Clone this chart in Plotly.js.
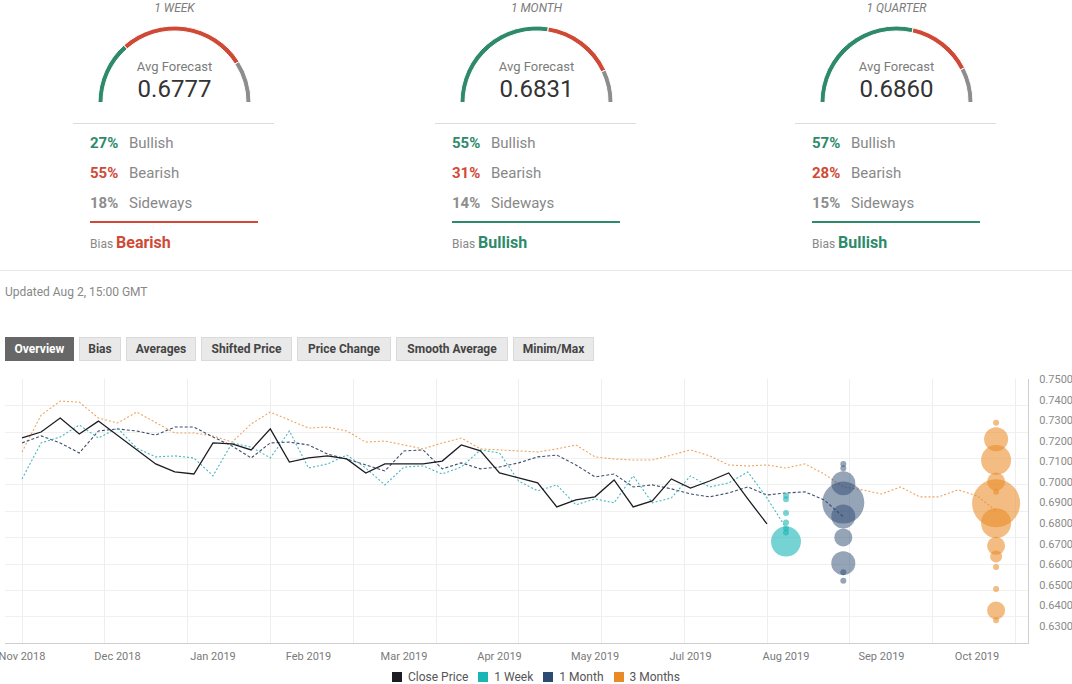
<!DOCTYPE html>
<html><head><meta charset="utf-8">
<script src="https://cdn.plot.ly/plotly-3.0.1.min.js"></script>
<style>
html,body{margin:0;padding:0;background:#fff}
body{width:1072px;height:684px;overflow:hidden;position:relative;font-family:Roboto,"Open Sans",Arial,sans-serif}
.a{position:absolute}
.blk{position:absolute;top:0;width:202px;height:262px}
.ttl{top:0;left:0;width:203px;text-align:center;font-style:italic;font-size:12px;line-height:16px;color:#7b7b7b}
.gauge{left:25px;top:26px;width:153px;height:153px}
.avgl{top:59px;left:0;width:203px;text-align:center;font-size:13px;line-height:16px;color:#7b7b7b}
.avgv{top:74px;left:0;width:203px;text-align:center;font-size:24px;line-height:30px;color:#333}
.sep{top:123px;left:0;width:201px;height:1px;background:#dcdcdc}
.row{left:17px;font-size:15px;line-height:18px;color:#888;white-space:nowrap}
.row b{display:inline-block;width:39px;font-weight:700}
.bline{top:221px;left:17px;width:168px;height:2px}
.bias{top:233px;left:17px;font-size:12px;line-height:20px;color:#888;white-space:nowrap}
.bias b{font-size:16px}
.btn{top:337px;height:24px;line-height:22px;font-size:12px;font-weight:700;color:#444;background:#e9e9e9;border:1px solid #dadada;box-sizing:border-box;text-align:center;white-space:nowrap}
.leg{top:670px;left:392px;display:flex;align-items:center;font-size:12px;color:#555;white-space:nowrap}
.leg span.sq{display:inline-block;width:10px;height:10px;margin-right:6px}
.leg span.tx{margin-right:10px}
</style></head>
<body>
<div id="chart" class="a" style="left:0;top:0;width:1072px;height:684px"></div>
<div id="blocks"></div>
<div class="a" style="top:270px;left:0;width:1072px;height:1px;background:#e8e8e8"></div>
<div class="a" style="top:284px;left:5px;font-size:12px;line-height:16px;color:#888">Updated Aug 2, 15:00 GMT</div>
<div id="btns"></div>
<div id="legend" class="a leg"></div>
<script>
// ---------- DATA ----------
const horizons = ['1 WEEK', '1 MONTH', '1 QUARTER'];
const avgForecast = [0.6777, 0.6831, 0.6860];
const bullishPct = [27, 55, 57];
const bearishPct = [55, 31, 28];
const sidewaysPct = [18, 14, 15];
const biasLabel = ['Bearish', 'Bullish', 'Bullish'];

const buttons = ['Overview', 'Bias', 'Averages', 'Shifted Price', 'Price Change', 'Smooth Average', 'Minim/Max'];

const weekLabels = ['Nov 2018', 'Dec 2018', 'Jan 2019', 'Feb 2019', 'Mar 2019', 'Apr 2019', 'May 2019', 'Jul 2019', 'Aug 2019', 'Sep 2019', 'Oct 2019'];
const yTickVals = [0.63, 0.64, 0.65, 0.66, 0.67, 0.68, 0.69, 0.70, 0.71, 0.72, 0.73, 0.74, 0.75];

const closePrice = [0.7214, 0.7243, 0.7311, 0.7233, 0.7296, 0.7228, 0.7156, 0.7088, 0.7049, 0.7039,
  0.7190, 0.7185, 0.7156, 0.7258, 0.7097, 0.7117, 0.7127, 0.7112, 0.7044, 0.7088,
  0.7088, 0.7088, 0.7102, 0.7180, 0.7151, 0.7044, 0.7020, 0.6996, 0.6879, 0.6913,
  0.6928, 0.7010, 0.6879, 0.6908, 0.7015, 0.6971, 0.7005, 0.7044, 0.6918, 0.6797];

const weekAvg = [0.7015, 0.7190, 0.7219, 0.7277, 0.7214, 0.7262, 0.7165, 0.7122, 0.7127, 0.7117,
  0.7030, 0.7190, 0.7170, 0.7117, 0.7248, 0.7068, 0.7088, 0.7131, 0.7068, 0.6986,
  0.7073, 0.7078, 0.7039, 0.7073, 0.7156, 0.7141, 0.7005, 0.6957, 0.6986, 0.6889,
  0.6918, 0.6899, 0.7030, 0.6899, 0.6923, 0.7030, 0.6976, 0.6996, 0.7049, 0.6923, 0.6777];

const monthAvg = [0.7190, 0.7224, 0.7190, 0.7141, 0.7248, 0.7258, 0.7248, 0.7228, 0.7267, 0.7267,
  0.7219, 0.7175, 0.7117, 0.7190, 0.7194, 0.7180, 0.7136, 0.7112, 0.7083, 0.7054,
  0.7151, 0.7156, 0.7064, 0.7093, 0.7064, 0.7073, 0.7093, 0.7122, 0.7131, 0.7083,
  0.7025, 0.7039, 0.6976, 0.6986, 0.6967, 0.6942, 0.6928, 0.6947, 0.6976, 0.6937,
  0.6947, 0.6952, 0.6913, 0.6831];

const quarterAvg = [0.7146, 0.7325, 0.7393, 0.7388, 0.7311, 0.7287, 0.7340, 0.7287, 0.7238, 0.7238,
  0.7224, 0.7194, 0.7282, 0.7340, 0.7301, 0.7262, 0.7267, 0.7248, 0.7194, 0.7199,
  0.7180, 0.7161, 0.7190, 0.7214, 0.7161, 0.7156, 0.7151, 0.7146, 0.7161, 0.7180,
  0.7122, 0.7112, 0.7107, 0.7107, 0.7131, 0.7156, 0.7127, 0.7083, 0.7078, 0.7083,
  0.7068, 0.7088, 0.7039, 0.6976, 0.6962, 0.6942, 0.6976, 0.6928, 0.6928, 0.6962,
  0.6933, 0.6860];

const horizonWeeks = [1, 4, 12];
const weekForecasts = [0.6933, 0.6916, 0.6849, 0.6803, 0.6776, 0.6755, 0.6711];
const weekCounts    = [1, 1, 1, 1, 1, 1, 5];
const monthForecasts = [0.7088, 0.7067, 0.6994, 0.6900, 0.6832, 0.6731, 0.6606, 0.6562, 0.6520];
const monthCounts    = [1, 1, 4, 7, 4, 3, 4, 1, 1];
const quarterForecasts = [0.7288, 0.7208, 0.7107, 0.7002, 0.6953, 0.6897, 0.6800, 0.6690, 0.6638, 0.6587, 0.6480, 0.6376, 0.6328];
const quarterCounts    = [1, 4, 5, 3, 1, 8, 5, 3, 2, 1, 1, 3, 1];

// ---------- STYLE ----------
const C_GREEN = '#2e8a6b', C_RED = '#cf4a36', C_GRAY = '#8d8d8d';
const C_CLOSE = '#1c1c22', C_WEEK = '#1ab5b5', C_MONTH = '#2d4a72', C_QUARTER = '#e88b27';
const FONT = 'Roboto, "Open Sans", Arial, sans-serif';

// ---------- TOP BLOCKS ----------
const blockOffsets = [73, 435, 795];
const blocksEl = document.getElementById('blocks');
horizons.forEach((h, k) => {
  const b = document.createElement('div');
  b.className = 'blk';
  b.style.left = blockOffsets[k] + 'px';
  const biasColor = biasLabel[k] === 'Bearish' ? C_RED : C_GREEN;
  b.innerHTML =
    '<div class="a ttl">' + h + '</div>' +
    '<div class="a gauge" id="gauge' + k + '"></div>' +
    '<div class="a avgl">Avg Forecast</div>' +
    '<div class="a avgv">' + avgForecast[k].toFixed(4) + '</div>' +
    '<div class="a sep"></div>' +
    '<div class="a row" style="top:134px"><b style="color:' + C_GREEN + '">' + bullishPct[k] + '%</b>Bullish</div>' +
    '<div class="a row" style="top:164px"><b style="color:' + C_RED + '">' + bearishPct[k] + '%</b>Bearish</div>' +
    '<div class="a row" style="top:194px"><b style="color:' + C_GRAY + '">' + sidewaysPct[k] + '%</b>Sideways</div>' +
    '<div class="a bline" style="background:' + biasColor + '"></div>' +
    '<div class="a bias">Bias <b style="color:' + biasColor + '">' + biasLabel[k] + '</b></div>';
  blocksEl.appendChild(b);
});

horizons.forEach((h, k) => {
  Plotly.newPlot('gauge' + k, [{
    type: 'pie',
    values: [bullishPct[k], bearishPct[k], sidewaysPct[k], bullishPct[k] + bearishPct[k] + sidewaysPct[k]],
    marker: { colors: [C_GREEN, C_RED, C_GRAY, 'rgba(0,0,0,0)'], line: { color: '#ffffff', width: [1, 1, 1, 0] } },
    hole: 0.935, sort: false, direction: 'clockwise', rotation: -90,
    textinfo: 'none', hoverinfo: 'skip', showlegend: false
  }], {
    width: 153, height: 153, margin: { l: 0, r: 0, t: 0, b: 0 },
    paper_bgcolor: 'rgba(0,0,0,0)', showlegend: false
  }, { staticPlot: true });
});

// ---------- BUTTONS ----------
const btnLeft = [5, 79, 126, 201, 297, 396, 513];
const btnWidth = [69, 42, 70, 91, 94, 112, 81];
const btnsEl = document.getElementById('btns');
buttons.forEach((t, k) => {
  const d = document.createElement('div');
  d.className = 'a btn';
  d.style.left = btnLeft[k] + 'px';
  d.style.width = btnWidth[k] + 'px';
  if (k === 0) { d.style.background = '#676767'; d.style.color = '#fff'; d.style.borderColor = '#676767'; }
  d.textContent = t;
  btnsEl.appendChild(d);
});

// ---------- LEGEND ----------
const legendNames = ['Close Price', '1 Week', '1 Month', '3 Months'];
const legendColors = [C_CLOSE, C_WEEK, C_MONTH, C_QUARTER];
document.getElementById('legend').innerHTML = legendNames.map((n, k) =>
  '<span class="sq" style="background:' + legendColors[k] + '"></span><span class="tx">' + n + '</span>').join('');

// ---------- MAIN CHART ----------
const idx = arr => arr.map((_, i) => i);
const lastIdx = closePrice.length - 1;
const fx = horizonWeeks.map(w => lastIdx + w);
const labelEvery = 5;

const traces = [
  { x: idx(quarterAvg), y: quarterAvg, mode: 'lines', line: { color: '#eea461', width: 1.1, dash: '2px,2px' }, hoverinfo: 'skip' },
  { x: idx(monthAvg), y: monthAvg, mode: 'lines', line: { color: '#3e4f6c', width: 1.1, dash: '3px,2px' }, hoverinfo: 'skip' },
  { x: idx(weekAvg), y: weekAvg, mode: 'lines', line: { color: '#45b7c2', width: 1.1, dash: '2px,2px' }, hoverinfo: 'skip' },
  { x: idx(closePrice), y: closePrice, mode: 'lines', line: { color: C_CLOSE, width: 1.3 }, hoverinfo: 'skip' },
  { x: weekForecasts.map(() => fx[0]), y: weekForecasts, mode: 'markers',
    marker: { size: weekCounts, sizemode: 'diameter', sizeref: 1 / 6, color: C_WEEK, opacity: 0.6, line: { width: 0 } }, hoverinfo: 'skip' },
  { x: monthForecasts.map(() => fx[1]), y: monthForecasts, mode: 'markers',
    marker: { size: monthCounts, sizemode: 'diameter', sizeref: 1 / 6, color: C_MONTH, opacity: 0.5, line: { width: 0 } }, hoverinfo: 'skip' },
  { x: quarterForecasts.map(() => fx[2]), y: quarterForecasts, mode: 'markers',
    marker: { size: quarterCounts, sizemode: 'diameter', sizeref: 1 / 6, color: C_QUARTER, opacity: 0.58, line: { width: 0 } }, hoverinfo: 'skip' }
];

const layout = {
  width: 1072, height: 684,
  margin: { l: 5, r: 44, t: 379, b: 41 },
  paper_bgcolor: 'rgba(0,0,0,0)', plot_bgcolor: 'rgba(0,0,0,0)',
  showlegend: false,
  font: { family: FONT, size: 11, color: '#888' },
  xaxis: {
    range: [-0.89, 52.67],
    tickmode: 'array',
    tickvals: weekLabels.map((_, k) => k * labelEvery),
    ticktext: weekLabels,
    showgrid: false, zeroline: false,
    showline: true, linecolor: '#cfcfcf', linewidth: 1,
    ticks: '', ticklabelstandoff: 3, ticklabeloverflow: 'allow',
    tickfont: { family: FONT, size: 11, color: '#7a7a7a' },
    minor: { tickmode: 'linear', tick0: 0.01, dtick: 52 / 12, showgrid: true, gridcolor: '#eeeeee', gridwidth: 1, ticks: '' },
    fixedrange: true
  },
  yaxis: {
    side: 'right',
    range: [0.6218, 0.75005],
    tickmode: 'array', tickvals: yTickVals, ticktext: yTickVals.map(v => v.toFixed(4)),
    showgrid: false, zeroline: false,
    showline: true, linecolor: '#cfcfcf', linewidth: 1,
    ticks: '', ticklabelstandoff: 8, ticklabeloverflow: 'allow',
    tickfont: { family: FONT, size: 11, color: '#8a8a8a' },
    minor: { tickmode: 'linear', tick0: 0.7499, dtick: 0.01282, showgrid: true, gridcolor: '#f0f0f0', gridwidth: 1, ticks: '' },
    fixedrange: true
  }
};

Plotly.newPlot('chart', traces, layout, { staticPlot: true, displayModeBar: false });
</script>
</body></html>
